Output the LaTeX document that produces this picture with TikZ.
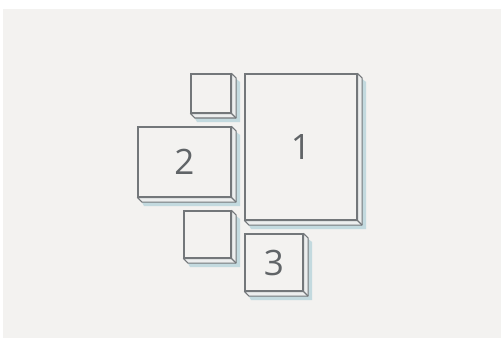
\documentclass[tikz,border=0pt]{standalone}
\usepackage{fontspec}
\setmainfont{Open Sans}
\usetikzlibrary{calc, backgrounds}
\definecolor{paperBg}{HTML}{F3F2F0}
\definecolor{edgeGray}{HTML}{73777A}
\definecolor{shadowBlue}{HTML}{C3DADF}
\definecolor{sideFill}{HTML}{ECEEEE}
\definecolor{labelGray}{HTML}{606467}

\begin{document}
\begin{tikzpicture}[
    x=1pt, y=1pt,
    face/.style={rectangle, draw=edgeGray, fill=paperBg, line width=1.1pt,
                 inner sep=0pt, font=\fontsize{35}{35}\selectfont\color{labelGray}},
    side/.style={draw=edgeGray, fill=sideFill, line width=1.1pt, line join=round},
    shade/.style={fill=shadowBlue}
  ]
    \useasboundingbox (0,0) rectangle (501,338);

    % front faces
    \node[face, minimum width=112, minimum height=146] (b1) at (301,191) {1};
    \node[face, minimum width=93, minimum height=70] (b2) at (184.5,176) {2};
    \node[face, minimum width=58, minimum height=57] (b3) at (274,75.5) {3};
    \node[face, minimum width=40, minimum height=39] (s1) at (211,244.5) {};
    \node[face, minimum width=47, minimum height=47] (s2) at (207.5,103.5) {};

    % paper, shadows and depth
    \begin{scope}[on background layer]
      \fill[paperBg] (3,0) rectangle (501,329);
      \foreach \b in {b1,b2,b3,s1,s2} {
        \fill[shade] ($(\b.north east)+(0,-2)$) -- ++(8.5,-6.5)
          -- ($(\b.south east)+(8.5,-8.5)$) -- ($(\b.south west)+(6.5,-8.5)$)
          -- ($(\b.south west)+(2,0)$) -- cycle;
        \draw[side] (\b.north east) -- ++(4.5,-4.5)
          -- ($(\b.south east)+(4.5,-4.5)$) -- ($(\b.south west)+(4.5,-4.5)$)
          -- (\b.south west) -- (\b.south east) -- cycle;
        \draw[side] (\b.south east) -- ++(4.5,-4.5);
      }
    \end{scope}
  \end{tikzpicture}
\end{document}
